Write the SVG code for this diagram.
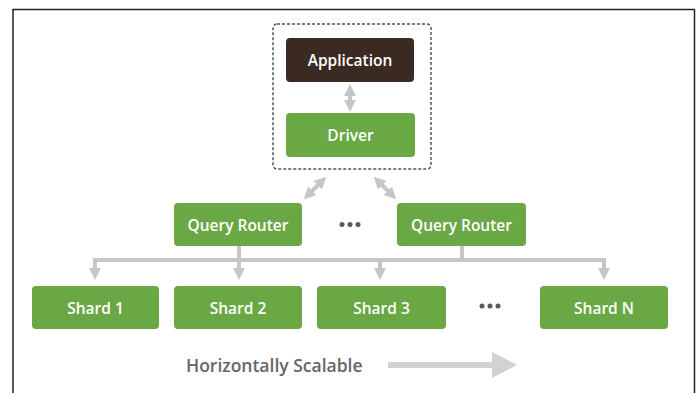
<svg xmlns="http://www.w3.org/2000/svg" width="699" height="393" viewBox="0 0 699 393">
<style>
.g{fill:#6aa845}
.t{font-family:"Open Sans","Noto Sans",sans-serif;font-weight:600;font-size:15.5px;fill:#fff;text-anchor:middle;dominant-baseline:central}
.c{stroke:#c6c6c6;stroke-width:4;fill:none}
.dot{fill:#5a5a5a}
</style>
<defs>
<marker id="ah" viewBox="0 0 10 10" refX="5" refY="5" markerWidth="3" markerHeight="3" orient="auto-start-reverse" markerUnits="strokeWidth">
<path d="M0,0 L10,5 L0,10 z" fill="#c6c6c6"/>
</marker>
</defs>
<rect width="699" height="393" fill="#fff"/>
<path d="M13,393 V9.5 H694.5 V393" fill="none" stroke="#222" stroke-width="1.5"/>
<rect x="273" y="24" width="158" height="145" rx="4" fill="none" stroke="#555" stroke-width="1.5" stroke-dasharray="3,2"/>
<g id="application"><rect x="286" y="38" width="128" height="44" rx="4" fill="#3b2a22"/><text class="t" x="350" y="60">Application</text></g>
<g id="driver"><rect class="g" x="286" y="113" width="129" height="44" rx="4"/><text class="t" x="350.5" y="135">Driver</text></g>
<g id="qr1"><rect class="g" x="174" y="203" width="128" height="43" rx="4"/><text class="t" x="238" y="224.5">Query Router</text></g>
<g id="qr2"><rect class="g" x="397" y="203" width="129" height="43" rx="4"/><text class="t" x="461.5" y="224.5">Query Router</text></g>
<g id="dots1"><circle class="dot" cx="342" cy="224.5" r="2.5"/><circle class="dot" cx="350" cy="224.5" r="2.5"/><circle class="dot" cx="358" cy="224.5" r="2.5"/></g>
<g id="shard1"><rect class="g" x="32" y="286" width="127" height="43" rx="4"/><text class="t" x="95.5" y="307.5">Shard 1</text></g>
<g id="shard2"><rect class="g" x="174" y="286" width="128" height="43" rx="4"/><text class="t" x="238" y="307.5">Shard 2</text></g>
<g id="shard3"><rect class="g" x="317" y="286" width="129" height="43" rx="4"/><text class="t" x="381.5" y="307.5">Shard 3</text></g>
<g id="dots2"><circle class="dot" cx="482" cy="306" r="2.5"/><circle class="dot" cx="490" cy="306" r="2.5"/><circle class="dot" cx="498" cy="306" r="2.5"/></g>
<g id="shardN"><rect class="g" x="540" y="286" width="128" height="43" rx="4"/><text class="t" x="604" y="307.5">Shard N</text></g>
<g id="connectors">
<line class="c" x1="350" y1="90" x2="350" y2="106" marker-start="url(#ah)" marker-end="url(#ah)"/>
<line class="c" x1="322" y1="181" x2="308" y2="195" marker-start="url(#ah)" marker-end="url(#ah)"/>
<line class="c" x1="378" y1="181" x2="392" y2="195" marker-start="url(#ah)" marker-end="url(#ah)"/>
<line class="c" x1="93" y1="260" x2="606" y2="260"/>
<line class="c" x1="239" y1="246" x2="239" y2="260"/>
<line class="c" x1="462" y1="246" x2="462" y2="260"/>
<line class="c" x1="95" y1="258" x2="95" y2="274" marker-end="url(#ah)"/>
<line class="c" x1="239" y1="258" x2="239" y2="274" marker-end="url(#ah)"/>
<line class="c" x1="380" y1="258" x2="380" y2="274" marker-end="url(#ah)"/>
<line class="c" x1="604" y1="258" x2="604" y2="274" marker-end="url(#ah)"/>
</g>
<g id="scale">
<text x="186" y="365" font-family="'Open Sans','Noto Sans',sans-serif" font-weight="600" font-size="17.5" fill="#666" dominant-baseline="central">Horizontally Scalable</text>
<rect x="388" y="362" width="106" height="6" fill="#d2d2d2"/>
<path d="M492,352 L517,365 L492,378 z" fill="#d2d2d2"/>
</g>
</svg>
